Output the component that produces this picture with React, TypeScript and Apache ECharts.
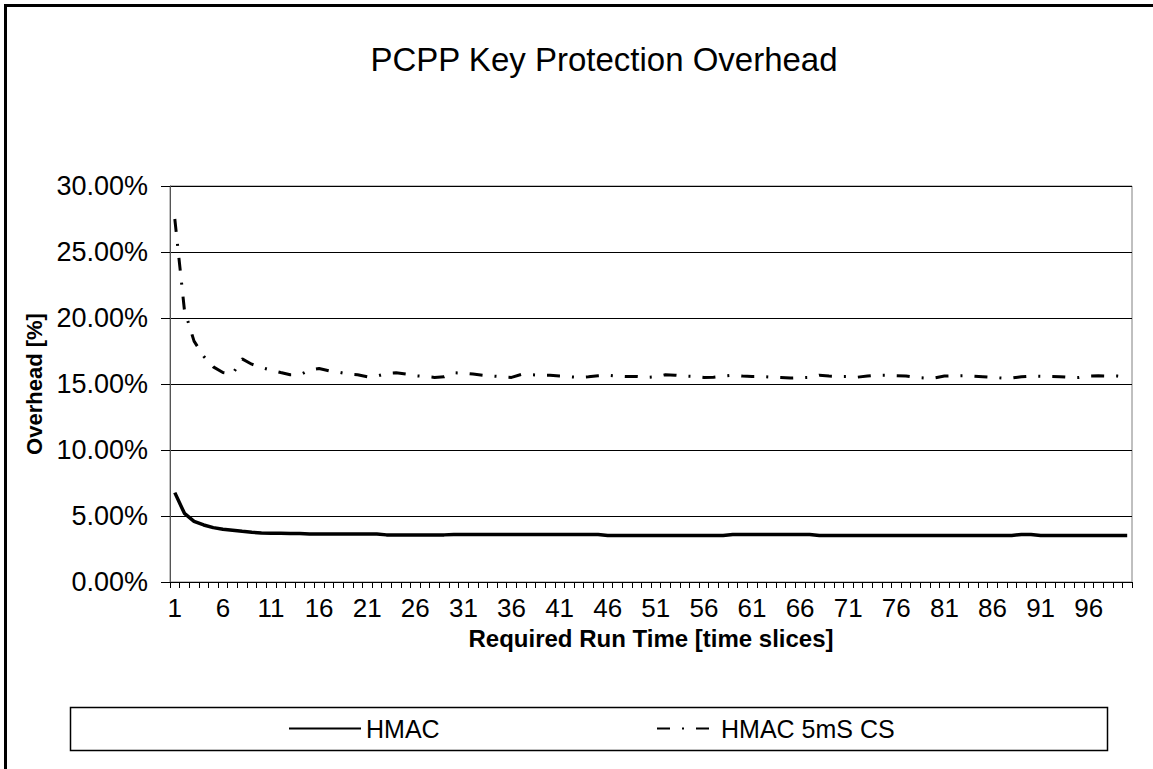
import React, { useEffect, useRef } from "react";
import * as echarts from "echarts";

const categories: string[] = Array.from({ length: 100 }, (_, i) => String(i + 1));

const hmac: number[] = [
  6.77, 5.2, 4.6, 4.32, 4.12, 4.0, 3.92, 3.84, 3.77, 3.71,
  3.7, 3.69, 3.68, 3.67, 3.64, 3.64, 3.64, 3.64, 3.64, 3.64,
  3.64, 3.64, 3.57, 3.57, 3.57, 3.57, 3.57, 3.57, 3.57, 3.6,
  3.6, 3.6, 3.6, 3.6, 3.6, 3.6, 3.6, 3.6, 3.6, 3.6,
  3.6, 3.6, 3.6, 3.6, 3.6, 3.53, 3.53, 3.53, 3.53, 3.53,
  3.53, 3.53, 3.53, 3.53, 3.53, 3.53, 3.53, 3.53, 3.6, 3.6,
  3.6, 3.6, 3.6, 3.6, 3.6, 3.6, 3.6, 3.53, 3.53, 3.53,
  3.53, 3.53, 3.53, 3.53, 3.53, 3.53, 3.53, 3.53, 3.53, 3.53,
  3.53, 3.53, 3.53, 3.53, 3.53, 3.53, 3.53, 3.53, 3.6, 3.6,
  3.53, 3.53, 3.53, 3.53, 3.53, 3.53, 3.53, 3.53, 3.53, 3.53,
];

const hmacCS: number[] = [
  27.5, 20.6, 18.25, 17.1, 16.3, 15.87, 15.75, 16.9, 16.5, 16.25,
  16.05, 15.87, 15.7, 15.7, 16.05, 16.17, 16.0, 15.9, 15.75, 15.7,
  15.55, 15.6, 15.8, 15.85, 15.75, 15.62, 15.57, 15.5, 15.55, 15.85,
  15.82, 15.75, 15.67, 15.6, 15.55, 15.5, 15.72, 15.7, 15.67, 15.67,
  15.6, 15.55, 15.5, 15.55, 15.62, 15.67, 15.6, 15.57, 15.57, 15.5,
  15.55, 15.7, 15.67, 15.6, 15.57, 15.5, 15.52, 15.6, 15.67, 15.6,
  15.57, 15.57, 15.52, 15.5, 15.45, 15.47, 15.5, 15.67, 15.6, 15.57,
  15.57, 15.52, 15.6, 15.67, 15.67, 15.62, 15.6, 15.5, 15.45, 15.47,
  15.6, 15.62, 15.62, 15.6, 15.55, 15.5, 15.45, 15.45, 15.55, 15.6,
  15.58, 15.57, 15.55, 15.5, 15.5, 15.6, 15.62, 15.6, 15.6, 15.5,
];

const seriesNames = ["HMAC", "HMAC 5mS CS"];
const yMin = 0;
const yMax = 30;
const yStep = 5;

const FONT = "'Liberation Sans', Arial, sans-serif";

export default function App() {
  const ref = useRef<HTMLDivElement>(null);
  useEffect(() => {
    if (!ref.current) return;
    const chart = echarts.init(ref.current, null, { renderer: "svg" });
    chart.setOption({
      animation: false,
      backgroundColor: "#ffffff",
      textStyle: { fontFamily: FONT, color: "#000" },
      title: {
        text: "PCPP Key Protection Overhead",
        left: 599,
        top: 38,
        textAlign: "center",
        textStyle: { fontFamily: FONT, fontSize: 33, fontWeight: "normal", color: "#000" },
      },
      graphic: [
        {
          type: "rect",
          shape: { x: 5.5, y: 5.5, width: 1300, height: 900 },
          style: { fill: "none", stroke: "#000", lineWidth: 3 },
          silent: true,
        },
        {
          type: "rect",
          shape: { x: 70.5, y: 707.5, width: 1037, height: 43 },
          style: { fill: "none", stroke: "#000", lineWidth: 1.5 },
          silent: true,
        },
      ],
      legend: [
        {
          data: [seriesNames[0]],
          left: 288,
          top: 716,
          padding: 0,
          itemWidth: 72,
          itemHeight: 14,
          itemStyle: { opacity: 0 },
          textStyle: { fontFamily: FONT, fontSize: 25, color: "#000" },
        },
        {
          data: [seriesNames[1]],
          left: 656,
          top: 716,
          padding: 0,
          itemWidth: 52,
          itemHeight: 14,
          itemStyle: { opacity: 0 },
          textStyle: { fontFamily: FONT, fontSize: 25, color: "#000", padding: [0, 0, 0, 7] },
        },
      ],
      grid: {
        left: 170,
        right: 21,
        top: 186,
        bottom: 187,
        show: true,
        borderColor: "#808080",
        borderWidth: 1,
        backgroundColor: "transparent",
      },
      xAxis: {
        type: "category",
        data: categories,
        boundaryGap: true,
        name: "Required Run Time [time slices]",
        nameLocation: "middle",
        nameGap: 44,
        nameTextStyle: { fontFamily: FONT, fontSize: 24, fontWeight: "bold", color: "#000" },
        axisLine: { show: true, lineStyle: { color: "#000", width: 1 } },
        axisTick: { show: true, interval: 0, length: 6, lineStyle: { color: "#000" } },
        axisLabel: { interval: 4, margin: 13, fontFamily: FONT, fontSize: 26, color: "#000" },
        splitLine: { show: false },
      },
      yAxis: {
        type: "value",
        min: yMin,
        max: yMax,
        interval: yStep,
        name: "Overhead [%]",
        nameLocation: "middle",
        nameRotate: 90,
        nameGap: 125,
        nameTextStyle: { fontFamily: FONT, fontSize: 22, fontWeight: "bold", color: "#000" },
        axisLine: { show: true, lineStyle: { color: "#555", width: 1 } },
        axisTick: { show: true, length: 9, lineStyle: { color: "#000" } },
        axisLabel: {
          margin: 22,
          fontFamily: FONT,
          fontSize: 27,
          color: "#000",
          formatter: (v: number) => `${v.toFixed(2)}%`,
        },
        splitLine: { show: true, lineStyle: { color: "#000", width: 1 } },
      },
      series: [
        {
          name: seriesNames[0],
          type: "line",
          data: hmac,
          symbol: "none",
          showSymbol: false,
          lineStyle: { color: "#000", width: 3.5, type: "solid" },
          itemStyle: { color: "#000" },
        },
        {
          name: seriesNames[1],
          type: "line",
          data: hmacCS,
          symbol: "none",
          showSymbol: false,
          lineStyle: { color: "#000", width: 3, type: [13, 12, 2, 12] },
          itemStyle: { color: "#000" },
        },
      ],
    });
    return () => chart.dispose();
  }, []);
  return (
    <div
      ref={ref}
      style={{ position: "fixed", left: 0, top: 0, width: 1153, height: 769, background: "#fff" }}
    />
  );
}
